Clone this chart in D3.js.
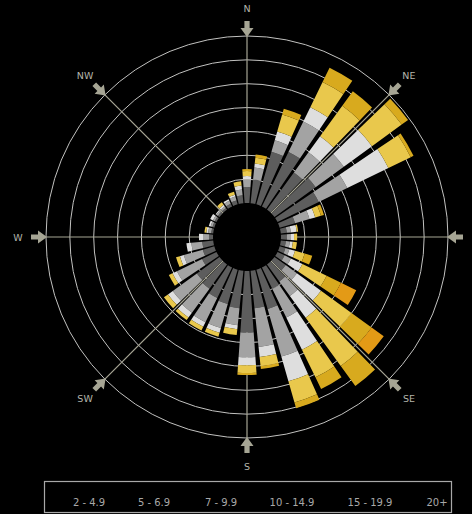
<!DOCTYPE html>
<html><head><meta charset="utf-8">
<script src="https://cdn.jsdelivr.net/npm/d3@7"></script>
<style>html,body{margin:0;padding:0;background:#000;}svg{display:block}</style>
</head><body><svg id="c" width="472" height="514"></svg>
<script>
// ---------------- data ----------------
const directions = [0,10,20,30,40,50,60,70,80,90,100,110,120,130,140,150,160,170,
                    180,190,200,210,220,230,240,250,260,270,280,290,300,310,320,330,340,350];
const speedBins = ["2 - 4.9","5 - 6.9","7 - 9.9","10 - 14.9","15 - 19.9","20+"];
// frequency (%) per direction for each speed bin
const s2to5   = [0.67,1.00,2.29,2.54,1.92,2.13,1.92,0.67,0.25,0.25,0.21,0.25,0.33,0.58,0.88,1.00,1.71,1.58,
                 2.58,1.58,1.50,1.42,1.25,1.17,0.67,0.50,0.46,0.17,0.08,0.08,0.08,0.08,0.08,0.13,0.17,0.33];
const s5to7   = [0.33,0.50,0.50,1.42,1.04,1.46,1.33,0.63,0.17,0.17,0.17,0.17,0.29,0.58,0.75,1.33,2.08,1.63,
                 1.04,0.71,1.04,1.13,1.25,1.25,1.17,0.83,0.46,0.25,0.13,0.08,0.08,0.08,0.08,0.13,0.17,0.25];
const s7to10  = [0.13,0.17,0.38,0.67,0.83,1.46,1.92,0.25,0.25,0.13,0.13,0.25,0.54,1.25,1.13,1.50,1.08,0.42,
                 0.33,0.17,0.21,0.21,0.25,0.25,0.21,0.17,0.21,0.17,0.08,0.08,0.13,0.04,0.08,0.08,0.08,0.17];
const s10to15 = [0.21,0.25,0.75,1.17,1.58,1.54,1.04,0.25,0.06,0.13,0.17,0.42,1.13,1.58,2.50,1.29,0.92,0.38,
                 0.33,0.25,0.17,0.17,0.13,0.21,0.17,0.17,0.00,0.00,0.08,0.00,0.00,0.00,0.13,0.00,0.13,0.17];
const s15to20 = [0.08,0.13,0.25,0.67,0.75,0.33,0.13,0.13,0.00,0.00,0.00,0.33,0.67,1.04,1.04,0.54,0.25,0.13,
                 0.08,0.00,0.00,0.00,0.00,0.00,0.00,0.00,0.00,0.00,0.00,0.00,0.00,0.00,0.00,0.00,0.00,0.00];
const s20plus = [0,0,0,0,0,0,0,0,0,0,0,0,0.71,0.63,0,0,0,0,
                 0,0,0,0,0,0,0,0,0,0,0,0,0,0,0,0,0,0];
const ringTicks = [1,2,3,4,5,6,7];
const compassAngles = [0,45,90,135,180,225,270,315];
// labels shown in the picture (E falls outside the frame and is not shown)
const compassLabels = ["N","NE","SE","S","SW","W","NW"];
const compassLabelAngles = [0,45,135,180,225,270,315];

// ---------------- layout ----------------
const W = 472, H = 514, cx = 247, cy = 237;
const binColors = ["#5d5d5d","#a3a3a3","#dedede","#e9c84c","#d8aa1e","#e39a16"];
const legendX = [89,154,221,292,370,437];

const svg = d3.select("#c");
svg.append("rect").attr("width", W).attr("height", H).attr("fill", "#000");

const r = d3.scaleLinear().domain([0, 7]).range([34, 201]);
const ang = d3.scaleLinear().domain([0, 360]).range([0, 2 * Math.PI]);
const halfW = ang(4);

const g = svg.append("g").attr("transform", `translate(${cx},${cy})`);

// rings
g.selectAll("circle.ring").data(ringTicks).join("circle")
  .attr("class", "ring").attr("r", d => r(d))
  .attr("fill", "none").attr("stroke", "#c2c2c0").attr("stroke-width", 1);

// spokes
g.selectAll("line.spoke").data(compassAngles).join("line")
  .attr("class", "spoke")
  .attr("x1", d => r(0) * Math.sin(ang(d))).attr("y1", d => -r(0) * Math.cos(ang(d)))
  .attr("x2", d => r(7) * Math.sin(ang(d))).attr("y2", d => -r(7) * Math.cos(ang(d)))
  .attr("stroke", "#a6a594").attr("stroke-width", 1.2);

// stacked bars
const rows = directions.map((d, i) => {
  const o = { dir: d };
  const series = [s2to5, s5to7, s7to10, s10to15, s15to20, s20plus];
  speedBins.forEach((b, j) => o[b] = series[j][i]);
  return o;
});
const stacked = d3.stack().keys(speedBins)(rows);
const arc = d3.arc();
g.selectAll("g.layer").data(stacked).join("g")
  .attr("class", "layer")
  .attr("fill", (d, i) => binColors[i])
  .selectAll("path").data(d => d.filter(p => p[1] - p[0] > 0)).join("path")
  .attr("d", p => arc({
    innerRadius: r(p[0]), outerRadius: r(p[1]),
    startAngle: ang(p.data.dir) - halfW, endAngle: ang(p.data.dir) + halfW
  }));

// arrows
const arrowPath = "M0,0 L-6.5,-9 L-2.6,-9 L-2.6,-16 L2.6,-16 L2.6,-9 L6.5,-9 Z";
g.selectAll("path.arrow").data(compassAngles).join("path")
  .attr("class", "arrow").attr("d", arrowPath)
  .attr("transform", d => `rotate(${d}) translate(0,${-r(7) + 1})`)
  .attr("fill", "#a6a594");

// compass labels
g.selectAll("text.lab").data(compassLabels).join("text")
  .attr("class", "lab")
  .attr("x", (d, i) => 229 * Math.sin(ang(compassLabelAngles[i])))
  .attr("y", (d, i) => -229 * Math.cos(ang(compassLabelAngles[i])))
  .attr("text-anchor", "middle").attr("dominant-baseline", "central")
  .attr("font-family", "DejaVu Sans, sans-serif").attr("font-size", 9.5)
  .attr("fill", "#b4b4aa").text(d => d);

// legend
svg.append("rect").attr("x", 44.5).attr("y", 481.5).attr("width", 407).attr("height", 31)
  .attr("fill", "none").attr("stroke", "#a8a8a8").attr("stroke-width", 1.2);
svg.selectAll("text.leg").data(speedBins).join("text")
  .attr("class", "leg")
  .attr("x", (d, i) => legendX[i]).attr("y", 506)
  .attr("text-anchor", "middle")
  .attr("font-family", "DejaVu Sans, sans-serif").attr("font-size", 10)
  .attr("fill", "#a8a8a8").text(d => d);
</script></body></html>
